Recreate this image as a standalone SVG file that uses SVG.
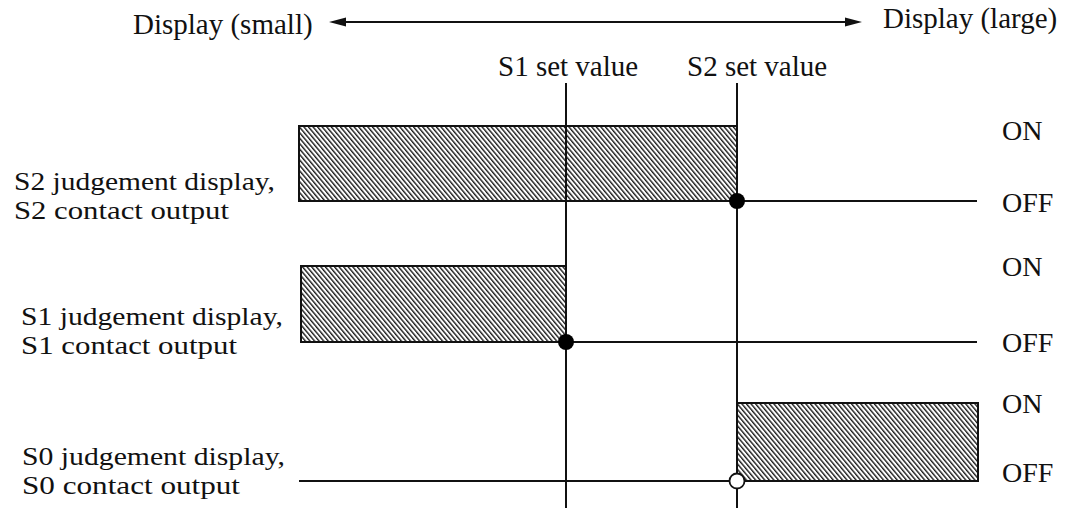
<svg xmlns="http://www.w3.org/2000/svg" width="1072" height="510" viewBox="0 0 1072 510">
<style>
text{font-family:"Liberation Serif","Times New Roman",serif;font-size:29px;fill:#111}
.st{font-size:28px}
.lb{font-size:26px}
.ln{stroke:#111;stroke-width:2;fill:none}
.box{stroke:#111;stroke-width:2;fill:url(#hatch)}
</style>
<defs>
<pattern id="hatch" width="3.5" height="20" patternUnits="userSpaceOnUse" patternTransform="rotate(-40)">
<rect x="0" y="0" width="3.5" height="20" fill="#fff"/>
<rect x="0" y="0" width="1.4" height="20" fill="#1a1a1a"/>
</pattern>
</defs>
<rect width="1072" height="510" fill="#fff"/>
<g id="axis">
<line class="ln" x1="340" y1="22" x2="850" y2="22"/>
<polygon points="329,22 346,17.5 346,26.5" fill="#111"/>
<polygon points="862,22 845,17.5 845,26.5" fill="#111"/>
<text x="133" y="34">Display (small)</text>
<text x="883" y="28">Display (large)</text>
</g>
<g id="setvalues">
<text x="498" y="76">S1 set value</text>
<text x="687" y="76">S2 set value</text>
</g>
<g id="row-s2">
<rect class="box" x="299" y="126" width="438" height="75"/>
<text class="lb" x="14" y="190" textLength="261" lengthAdjust="spacingAndGlyphs">S2 judgement display,</text>
<text class="lb" x="14" y="219" textLength="215" lengthAdjust="spacingAndGlyphs">S2 contact output</text>
<text class="st" x="1002" y="140">ON</text>
<text class="st" x="1002" y="212">OFF</text>
</g>
<g id="row-s1">
<rect class="box" x="301" y="266" width="265" height="76"/>
<text class="lb" x="21" y="325" textLength="262" lengthAdjust="spacingAndGlyphs">S1 judgement display,</text>
<text class="lb" x="21" y="354" textLength="216" lengthAdjust="spacingAndGlyphs">S1 contact output</text>
<text class="st" x="1002" y="276">ON</text>
<text class="st" x="1002" y="352">OFF</text>
</g>
<g id="row-s0">
<rect class="box" x="737" y="403" width="241" height="78"/>
<text class="lb" x="22" y="465" textLength="263" lengthAdjust="spacingAndGlyphs">S0 judgement display,</text>
<text class="lb" x="22" y="494" textLength="218" lengthAdjust="spacingAndGlyphs">S0 contact output</text>
<text class="st" x="1002" y="413">ON</text>
<text class="st" x="1002" y="482">OFF</text>
</g>
<g id="connectors">
<line class="ln" x1="566" y1="83" x2="566" y2="508"/>
<line class="ln" x1="737" y1="83" x2="737" y2="508"/>
<line class="ln" x1="299" y1="201" x2="977" y2="201"/>
<line class="ln" x1="301" y1="342" x2="977" y2="342"/>
<line class="ln" x1="299" y1="481" x2="737" y2="481"/>
<circle cx="737" cy="201" r="8" fill="#000"/>
<circle cx="566" cy="342" r="8" fill="#000"/>
<circle cx="737" cy="481" r="7.5" fill="#fff" stroke="#111" stroke-width="1.8"/>
</g>
</svg>
